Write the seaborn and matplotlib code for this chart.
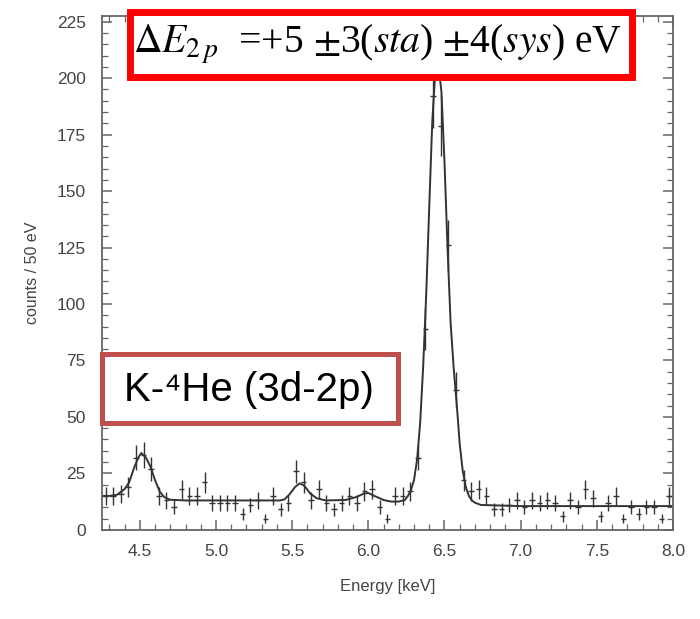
import numpy as np
import pandas as pd
import matplotlib
matplotlib.use("Agg")
import matplotlib.pyplot as plt
import seaborn as sns
from matplotlib.patches import Rectangle
from matplotlib.ticker import MultipleLocator, FormatStrFormatter

# measured spectrum: 50 eV bins
bin_energy = [4.275, 4.325, 4.375, 4.425, 4.475, 4.525, 4.575, 4.625, 4.675, 4.725,
              4.775, 4.825, 4.875, 4.925, 4.975, 5.025, 5.075, 5.125, 5.175, 5.225,
              5.275, 5.325, 5.375, 5.425, 5.475, 5.525, 5.575, 5.625, 5.675, 5.725,
              5.775, 5.825, 5.875, 5.925, 5.975, 6.025, 6.075, 6.125, 6.175, 6.225,
              6.275, 6.325, 6.375, 6.425, 6.475, 6.525, 6.575, 6.625, 6.675, 6.725,
              6.775, 6.825, 6.875, 6.925, 6.975, 7.025, 7.075, 7.125, 7.175, 7.225,
              7.275, 7.325, 7.375, 7.425, 7.475, 7.525, 7.575, 7.625, 7.675, 7.725,
              7.775, 7.825, 7.875, 7.925, 7.975]
counts = [15, 15, 16, 19, 32, 33, 27, 15, 13, 10,
          18, 15, 15, 21, 12, 12, 12, 12, 7, 11,
          13, 5, 15, 9, 12, 26, 21, 13, 18, 12,
          9, 12, 15, 12, 17, 18, 10, 5, 15, 15,
          17, 32, 89, 192, 179, 126, 62, 22, 17, 18,
          15, 9, 9, 11, 13, 10, 13, 12, 13, 12,
          6, 13, 10, 18, 14, 6, 12, 15, 5, 10,
          7, 10, 10, 5, 15]
count_errors = [3.9, 3.9, 4.0, 4.4, 5.7, 5.7, 5.2, 3.9, 3.6, 3.2,
                4.2, 3.9, 3.9, 4.6, 3.5, 3.5, 3.5, 3.5, 2.6, 3.3,
                3.6, 2.2, 3.9, 3.0, 3.5, 5.1, 4.6, 3.6, 4.2, 3.5,
                3.0, 3.5, 3.9, 3.5, 4.1, 4.2, 3.2, 2.2, 3.9, 3.9,
                4.1, 5.7, 9.4, 13.9, 13.4, 11.2, 7.9, 4.7, 4.1, 4.2,
                3.9, 3.0, 3.0, 3.3, 3.6, 3.2, 3.6, 3.5, 3.6, 3.5,
                2.4, 3.6, 3.2, 4.2, 3.7, 2.4, 3.5, 3.9, 2.2, 3.2,
                2.6, 3.2, 3.2, 2.2, 3.9]

# fitted curve
fit_energy = [4.255, 4.30, 4.35, 4.40, 4.43, 4.46, 4.49, 4.51, 4.54, 4.57,
              4.60, 4.63, 4.66, 4.70, 4.80, 5.00, 5.20, 5.42, 5.45, 5.48,
              5.52, 5.55, 5.58, 5.62, 5.66, 5.72, 5.85, 5.92, 5.97, 6.00,
              6.04, 6.10, 6.15, 6.20, 6.24, 6.26, 6.28, 6.30, 6.32, 6.34,
              6.36, 6.38, 6.40, 6.42, 6.44, 6.46, 6.48, 6.50, 6.52, 6.54,
              6.56, 6.58, 6.60, 6.62, 6.64, 6.66, 6.68, 6.70, 6.74, 7.00,
              7.50, 8.00]
fit_counts = [15, 15, 15.5, 18, 21, 27, 32, 34, 32, 28,
              22, 17, 14.5, 13.3, 13, 13, 13, 13, 13.5, 15.5,
              19, 20.6, 19.5, 16, 14, 13, 13.2, 14.5, 16, 16.3,
              15, 13.2, 12.5, 12.5, 13.2, 15, 17.5, 22, 31, 47,
              72, 104, 143, 181, 203, 206, 194, 163, 125, 92,
              72, 56, 38, 26, 19, 15, 13, 12, 11, 10.5,
              10.5, 10.5]

sns.set_theme(style="ticks")
plt.rcParams['font.family'] = ['Liberation Sans', 'DejaVu Sans']
plt.rcParams['mathtext.fontset'] = 'stix'

fig = plt.figure(figsize=(7, 6.19), dpi=100)
ax = fig.add_axes([0.1464, 0.143, 0.815, 0.831])

spec = pd.DataFrame({'energy': bin_energy, 'counts': counts, 'err': count_errors})
fit = pd.DataFrame({'energy': fit_energy, 'counts': fit_counts})

line_col = '#333333'
sns.lineplot(data=fit, x='energy', y='counts', ax=ax, color=line_col, lw=1.4)
ax.errorbar(spec['energy'], spec['counts'], yerr=spec['err'], xerr=0.018,
            fmt='none', ecolor=line_col, elinewidth=1.0, capsize=0)

ax.set_xlim(4.255, 8.0)
ax.set_ylim(-0.3, 227.5)
ax.xaxis.set_major_locator(MultipleLocator(0.5))
ax.xaxis.set_minor_locator(MultipleLocator(0.1))
ax.yaxis.set_major_locator(MultipleLocator(25))
ax.yaxis.set_minor_locator(MultipleLocator(5))
ax.xaxis.set_major_formatter(FormatStrFormatter('%.1f'))

for s in ax.spines.values():
    s.set_color('#666666')
    s.set_linewidth(1.3)
ax.tick_params(which='both', direction='in', top=True, right=True,
               color='#666666', labelcolor='#444444', labelsize=12.5)
ax.tick_params(which='major', length=7, width=1.1)
ax.tick_params(which='minor', length=4, width=0.9)
ax.tick_params(axis='x', pad=10)
ax.tick_params(axis='y', pad=12)

ax.set_xlabel('Energy [keV]', fontsize=12, color='#444444', labelpad=14)
ax.set_ylabel('counts / 50 eV', fontsize=11.5, color='#444444', labelpad=12)

# annotation boxes
fig.patches.append(Rectangle((0.1864, 0.8764), 0.717, 0.105, transform=fig.transFigure,
                             fill=True, facecolor='white', edgecolor='#ff0000',
                             linewidth=5, zorder=5))
fig.text(0.539, 0.929,
         r'$\Delta E_{2\,p}$  =+5 $\pm$3($\mathit{sta}$) $\pm$4($\mathit{sys}$) eV',
         fontsize=28.5, ha='center', va='center', color='black', zorder=6,
         family=['Liberation Serif', 'DejaVu Serif'])

fig.patches.append(Rectangle((0.145, 0.3174), 0.423, 0.1115, transform=fig.transFigure,
                             fill=True, facecolor='white', edgecolor='#c0504d',
                             linewidth=3.6, zorder=5))
fig.text(0.356, 0.370, 'K-\u2074He (3d-2p)', fontsize=29, ha='center', va='center',
         color='black', family=['Liberation Sans', 'DejaVu Sans'], zorder=6)

fig.savefig('out.png', dpi=100)
